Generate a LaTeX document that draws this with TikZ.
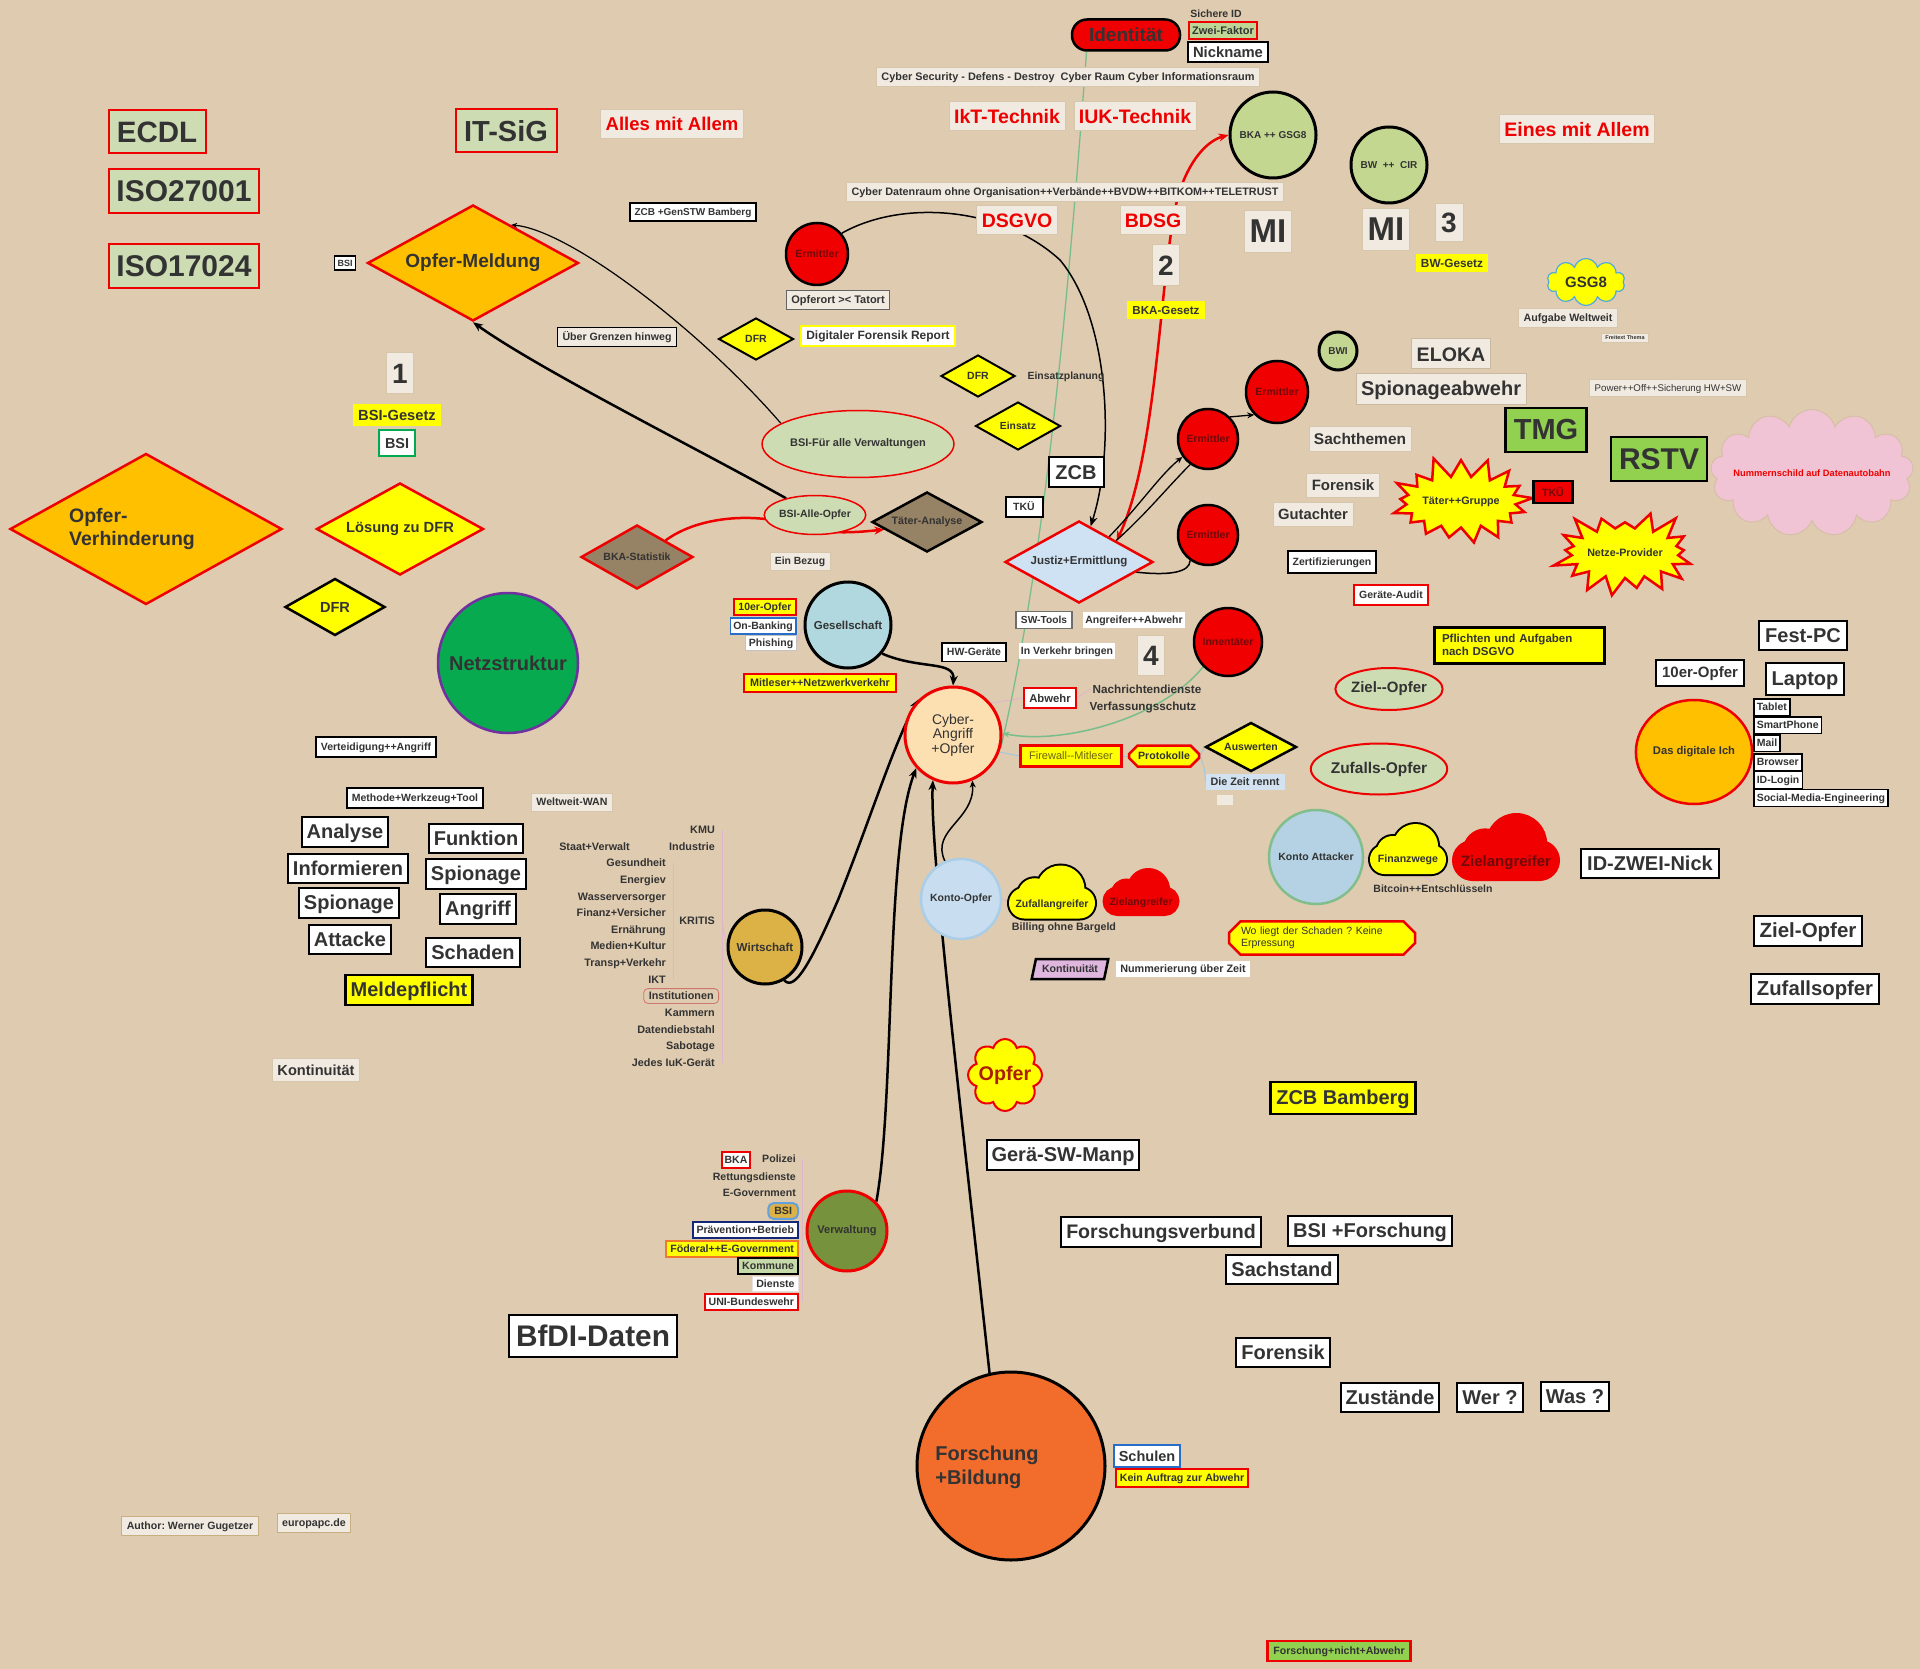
\documentclass[tikz,border=0pt]{standalone}
\usepackage{fontspec}
\setmainfont{Liberation Sans}
\frenchspacing
\usetikzlibrary{shapes.geometric,shapes.symbols,shapes.misc,arrows.meta}
\pgfdeclarelayer{bg}
\pgfsetlayers{bg,main}
\definecolor{bgc}{RGB}{223,203,175}
\definecolor{lbg}{RGB}{241,234,224}
\definecolor{lbd}{RGB}{214,198,172}
\definecolor{txt}{RGB}{51,51,51}
\definecolor{rd}{RGB}{238,0,0}
\definecolor{rfill}{RGB}{240,0,0}
\definecolor{drd}{RGB}{110,10,10}
\definecolor{yel}{RGB}{255,255,0}
\definecolor{org}{RGB}{255,192,0}
\definecolor{lgr}{RGB}{205,220,178}
\definecolor{isog}{RGB}{205,220,178}
\definecolor{cgr}{RGB}{195,215,145}
\definecolor{tmgc}{RGB}{146,208,80}
\definecolor{netz}{RGB}{8,170,80}
\definecolor{purp}{RGB}{112,48,160}
\definecolor{taupe}{RGB}{150,130,100}
\definecolor{jus}{RGB}{207,226,243}
\definecolor{cyb}{RGB}{253,224,178}
\definecolor{gesc}{RGB}{176,216,222}
\definecolor{wirtc}{RGB}{220,178,70}
\definecolor{verwc}{RGB}{118,146,60}
\definecolor{fors}{RGB}{242,108,44}
\definecolor{kop}{RGB}{200,222,240}
\definecolor{kopd}{RGB}{170,205,232}
\definecolor{kat}{RGB}{180,210,228}
\definecolor{katd}{RGB}{130,190,140}
\definecolor{cpink}{RGB}{240,196,212}
\definecolor{kont}{RGB}{222,182,222}
\definecolor{zeitc}{RGB}{210,226,240}
\definecolor{glin}{RGB}{120,190,140}
\definecolor{blin}{RGB}{150,200,230}
\definecolor{plin}{RGB}{225,180,205}
\definecolor{olv}{RGB}{110,100,20}
\definecolor{blu}{RGB}{40,110,200}
\definecolor{dblu}{RGB}{20,40,120}
\definecolor{orb}{RGB}{240,120,40}
\definecolor{komc}{RGB}{198,217,168}
\definecolor{zfc}{RGB}{190,215,150}
\definecolor{oprd}{RGB}{170,30,0}
\definecolor{cldb}{RGB}{80,170,220}
\definecolor{autb}{RGB}{200,175,130}
\tikzset{
 fb/.style={font=\fontsize{#1}{#1}\selectfont\bfseries},
 fn/.style={font=\fontsize{#1}{#1}\selectfont},
 sstrut/.style={execute at begin node={\vrule width 0pt height .86\baselineskip depth .14\baselineskip\relax}},
 lbox/.style={fill=lbg, draw=lbd, line width=0.6pt, inner xsep=5pt, inner ysep=4.5pt, text=txt, sstrut},
 wbox/.style={fill=white, draw=black, line width=2pt, inner xsep=5pt, inner ysep=4.5pt, text=txt, sstrut},
 tbox/.style={inner xsep=2pt, inner ysep=1pt, text=txt, sstrut},
 rbox/.style={lbox, text=rd},
 ybox/.style={fill=yel, inner xsep=5pt, inner ysep=4pt, text=txt, sstrut},
 gbox/.style={fill=isog, draw=rd, line width=2pt, inner xsep=7pt, inner ysep=6pt, text=txt, sstrut},
 dmd/.style n args={3}{diamond, inner sep=0pt, minimum width=#1, minimum height=#2, aspect=#3, text=txt},
 circ/.style={circle, inner sep=0pt, minimum size=#1, text=txt},
 ermc/.style={circ=#1, fill=rfill, draw=black, line width=2.5pt, fb=10.5, text=drd},
 ell/.style n args={2}{ellipse, inner sep=0pt, minimum width=#1, minimum height=#2, text=txt},
 cld/.style n args={2}{cloud, inner sep=0pt, minimum width=#1, minimum height=#2, text=txt},
 stb/.style n args={2}{starburst, inner sep=0pt, minimum width=#1, minimum height=#2, text=txt},
 arr/.style={-{Stealth[length=10pt,width=8pt]}},
 sarr/.style={-{Stealth[length=7pt,width=6pt]}},
}
% cloud icon: x, y, width, height, fill, draw
\newcommand\cloudicon[6]{%
\pgfmathsetmacro\cL{#1-#3/2}%
\pgfmathsetmacro\cT{#2-#4/2}%
\pgfmathsetmacro\cR{#1+#3/2}%
\pgfmathsetmacro\cB{#2+#4/2}%
\pgfmathsetmacro\cPT{\cT+0.42*#4}%
\pgfmathsetmacro\cRad{0.29*#4}%
\pgfmathsetmacro\cAx{\cL+0.6*#3}%
\pgfmathsetmacro\cAy{\cT+0.45*#4}%
\pgfmathsetmacro\cAr{0.45*#4}%
\pgfmathsetmacro\cBx{\cL+0.3*#3}%
\pgfmathsetmacro\cBy{\cT+0.56*#4}%
\pgfmathsetmacro\cBr{0.32*#4}%
\path[draw=#6, line width=4pt] (\cL,\cPT) [rounded corners=\cRad pt] rectangle (\cR,\cB) (\cAx,\cAy) circle[radius=\cAr pt] (\cBx,\cBy) circle[radius=\cBr pt];
\path[fill=#5] (\cL,\cPT) [rounded corners=\cRad pt] rectangle (\cR,\cB) (\cAx,\cAy) circle[radius=\cAr pt] (\cBx,\cBy) circle[radius=\cBr pt];
}
\begin{document}
\begin{tikzpicture}[x=1pt,y=-1pt]
\useasboundingbox (0,0) rectangle (1920,1669);

% ---------- top left
\node[gbox, fb=29.5, minimum width=97pt, minimum height=43pt] (ecdl) at (157,132) {ECDL};
\node[gbox, fb=30, minimum height=44pt] (iso1) at (184,191) {ISO27001};
\node[gbox, fb=30, minimum height=44pt] (iso2) at (184,266) {ISO17024};
\node[gbox, fb=29, minimum width=101pt, minimum height=43pt] (itsig) at (506,131) {IT-SiG};
\node[rbox, fb=18.5, minimum height=29pt] (alles) at (672,124) {Alles mit Allem};
\node[rbox, fb=19.5, minimum height=28pt] (eines) at (1577,129) {Eines mit Allem};
\node[rbox, fb=19.5, minimum height=28pt] (ikt) at (1007,116) {IkT-Technik};
\node[rbox, fb=19.5, minimum height=28pt] (iuk) at (1135,116) {IUK-Technik};
\node[rbox, fb=19.5, minimum height=28pt] (dsgvo) at (1017,220) {DSGVO};
\node[rbox, fb=19.5, minimum height=28pt] (bdsg) at (1153,220) {BDSG};

% ---------- top
\node[draw=black, fill=rfill, line width=2.5pt, rounded corners=15pt, minimum width=108pt, minimum height=31pt, inner sep=0pt, fb=19, text=txt] (iden) at (1126,35) {Identität};
\node[tbox, fb=10.5] (sid) at (1216,14) {Sichere ID};
\node[fill=zfc, draw=rd, line width=2pt, fb=11, inner xsep=3.5pt, inner ysep=3pt, text=txt, sstrut] (zwei) at (1223,31) {Zwei-Faktor};
\node[wbox, fb=14.8, inner ysep=3pt] (nick) at (1228,52) {Nickname};
\node[lbox, fb=10.9, inner ysep=3.5pt] (cysec) at (1068,77) {Cyber Security - Defens - Destroy\ \ Cyber Raum Cyber Informationsraum};
\node[lbox, fb=10.8, inner ysep=3.5pt] (cydat) at (1065,192) {Cyber Datenraum ohne Organisation++Verbände++BVDW++BITKOM++TELETRUST};
\node[circ=86pt, fill=cgr, draw=black, line width=3pt, fb=10] (bka) at (1273,135) {BKA ++ GSG8};
\node[circ=76pt, fill=cgr, draw=black, line width=3pt, fb=10] (bwcir) at (1389,165) {BW\ \ ++\ \ CIR};
\node[lbox, fb=28, inner xsep=6pt, minimum height=41pt] (n2) at (1166,265) {2};
\node[ybox, fb=11.6, inner ysep=3.5pt] (bkag) at (1166,310) {BKA-Gesetz};
\node[lbox, fb=33, minimum width=47pt, minimum height=40pt, inner xsep=2pt] (mi1) at (1268,231) {MI};
\node[lbox, fb=33, minimum width=47pt, minimum height=40pt, inner xsep=2pt] (mi2) at (1386,229) {MI};
\node[lbox, fb=28, inner xsep=6pt, minimum height=38pt] (n3) at (1449,222) {3};
\node[ybox, fb=11.8, inner ysep=3.5pt] (bwg) at (1452,263) {BW-Gesetz};

% ---------- left upper
\node[wbox, fb=10, inner ysep=3.5pt] (zcbg) at (693,212) {ZCB +GenSTW Bamberg};
\node[wbox, fb=9, line width=1.5pt, inner xsep=3pt, inner ysep=2.5pt] (bsis) at (345,263) {BSI};
\node[dmd={211pt}{116pt}{1.82}, fill=org, draw=rd, line width=2.5pt, fb=19] (opfm) at (473,263) {Opfer-Meldung};
\node[ermc=62pt] (erm1) at (817,254) {Ermittler};
\node[lbox, draw={rgb,255:red,100;green,100;blue,100}, line width=1.5pt, fb=11, inner ysep=3.5pt] (oort) at (838,300) {Opferort >< Tatort};
\node[lbox, draw=black, line width=1.5pt, fb=10.6, inner ysep=4pt] (ueber) at (617,337) {Über Grenzen hinweg};
\node[dmd={75pt}{42pt}{1.8}, fill=yel, draw=black, line width=2pt, fb=10.5] (dfr1) at (756,339) {DFR};
\node[fill=white, draw=yel, line width=2pt, fb=12, inner xsep=5pt, inner ysep=4pt, text=txt, sstrut] (dfrrep) at (878,336) {Digitaler Forensik Report};
\node[dmd={74pt}{42pt}{1.8}, fill=yel, draw=black, line width=2pt, fb=10.5] (dfr2) at (978,376) {DFR};
\node[tbox, fb=10.4] (einpl) at (1066,376) {Einsatzplanung};
\node[dmd={85pt}{48pt}{1.8}, fill=yel, draw=black, line width=2pt, fb=10.3] (einsatz) at (1018,426) {Einsatz};
\node[ell={148pt}{67pt}, fill=lgr, draw=rd, line width=1.5pt, fb=11] (bsif) at (858,444) {BSI-Für alle Verwaltungen};
\node[ell={88pt}{39pt}, fill=lgr, draw=rd, line width=1.5pt, fb=10.5] (bsiao) at (815,515) {BSI-Alle-Opfer};
\node[dmd={110pt}{60pt}{1.83}, fill=taupe, draw=black, line width=2.5pt, fb=10.7] (taeter) at (927,522) {Täter-Analyse};
\node[dmd={112pt}{64pt}{1.75}, fill=taupe, draw=rd, line width=2.5pt, fb=10.5] (bkas) at (637,557) {BKA-Statistik};
\node[lbox, fb=10.4, inner ysep=3.5pt] (bezug) at (800,561) {Ein Bezug};

% ---------- center
\node[wbox, fb=20, minimum width=55pt, minimum height=30pt, inner xsep=3pt] (zcb) at (1076,472) {ZCB};
\node[wbox, fb=10.5, minimum width=37pt, minimum height=20pt, inner sep=2pt] (tku1) at (1024,507) {TKÜ};
\node[dmd={148pt}{82pt}{1.8}, fill=jus, draw=rd, line width=2.5pt, fb=11.5] (justiz) at (1079,562) {Justiz+Ermittlung};
\node[ermc=60pt] (erm2) at (1208,439) {Ermittler};
\node[ermc=62pt] (erm3) at (1277,392) {Ermittler};
\node[ermc=60pt] (erm4) at (1208,535) {Ermittler};
\node[ermc=68pt] (innen) at (1228,642) {Innentäter};
\node[wbox, draw={rgb,255:red,110;green,110;blue,110}, line width=1.5pt, fb=10.2, inner ysep=3.5pt] (swt) at (1044,620) {SW-Tools};
\node[fill=white, tbox, fb=10.5, inner ysep=2.5pt] (angab) at (1134,620) {Angreifer++Abwehr};
\node[wbox, line width=1.5pt, fb=10.5, inner ysep=4pt] (hwg) at (974,652) {HW-Geräte};
\node[fill=white, tbox, fb=10.5, inner ysep=2.5pt] (invb) at (1067,651) {In Verkehr bringen};
\node[lbox, fb=28, inner xsep=6pt, minimum height=40pt] (n4) at (1151,655) {4};
\node[fill=white, draw=rd, line width=2pt, fb=11.3, inner xsep=5pt, inner ysep=4.5pt, text=txt, sstrut] (abw) at (1050,698) {Abwehr};
\node[tbox, fb=11.7] (nachr) at (1147,689) {Nachrichtendienste};
\node[tbox, fb=11.7] (verf) at (1143,707) {Verfassungsschutz};
\node[fill=yel, draw=rd, line width=2.5pt, fn=11, text=olv, minimum width=101pt, minimum height=21pt, inner sep=2pt, sstrut] (fire) at (1071,756) {Firewall-{}-Mitleser};
\node[chamfered rectangle, chamfered rectangle xsep=5pt, fill=yel, draw=rd, line width=2.5pt, fb=10.6, minimum width=70pt, minimum height=21pt, inner sep=1pt, text=txt, sstrut] (prot) at (1164,756) {Protokolle};
\node[dmd={91pt}{49pt}{1.86}, fill=yel, draw=black, line width=2.5pt, fb=10.5] (ausw) at (1251,747) {Auswerten};
\node[fill=zeitc, fb=10.8, inner xsep=5pt, inner ysep=2.5pt, text=txt, sstrut] (zeit) at (1245,782) {Die Zeit rennt};
\node[fill=lbg, minimum width=16pt, minimum height=10pt, inner sep=0pt] (emp) at (1225,800) {};
\node[circ=96pt, fill=cyb, draw=rd, line width=3pt, align=center, font=\fontsize{14}{14.5}\selectfont] (cyber) at (953,735) {Cyber-\\Angriff\\+Opfer};

% ---------- Gesellschaft
\node[circ=86pt, fill=gesc, draw=black, line width=3pt, fb=11.5] (gesell) at (848,625) {Gesellschaft};
\node[fill=yel, draw=rd, line width=2pt, fb=10.5, inner xsep=4pt, inner ysep=2.5pt, text=txt, sstrut] (zehn1) at (765,607) {10er-Opfer};
\node[fill=white, draw=blu, line width=1.5pt, fb=10.5, inner xsep=3pt, inner ysep=2.5pt, text=txt, sstrut] (onb) at (763,626) {On-Banking};
\node[fill=white, draw={rgb,255:red,195;green,195;blue,195}, line width=1pt, fb=10.5, inner xsep=3pt, inner ysep=2pt, text=txt, sstrut] (phish) at (771,643) {Phishing};
\node[fill=yel, draw=rd, line width=2pt, fb=10.8, inner xsep=6pt, inner ysep=4pt, text=txt, sstrut] (mitl) at (820,683) {Mitleser++Netzwerkverkehr};
\node[lbox, fb=10.6, inner ysep=3.5pt] (wwan) at (572,802) {Weltweit-WAN};

% ---------- Wirtschaft
\node[circ=74pt, fill=wirtc, draw=black, line width=3pt, fb=11.6] (wirt) at (765,947) {Wirtschaft};
\node[tbox, fb=10.8, anchor=east] (kmu) at (717,830) {KMU};
\node[tbox, fb=10.8, anchor=east] (indu) at (717,847) {Industrie};
\node[tbox, fb=10.8, anchor=east] (staat) at (632,847) {Staat+Verwalt};
\node[tbox, fb=10.8, anchor=east] (gesu) at (668,863) {Gesundheit};
\node[tbox, fb=10.8, anchor=east] (ener) at (668,880) {Energiev};
\node[tbox, fb=10.8, anchor=east] (wass) at (668,897) {Wasserversorger};
\node[tbox, fb=10.8, anchor=east] (fina) at (668,913) {Finanz+Versicher};
\node[tbox, fb=10.8, anchor=east] (kritis) at (717,921) {KRITIS};
\node[tbox, fb=10.8, anchor=east] (ernae) at (668,930) {Ernährung};
\node[tbox, fb=10.8, anchor=east] (medi) at (668,946) {Medien+Kultur};
\node[tbox, fb=10.8, anchor=east] (trans) at (668,963) {Transp+Verkehr};
\node[tbox, fb=10.8, anchor=east] (ikt2) at (668,980) {IKT};
\node[tbox, fb=10.8, anchor=east, draw={rgb,255:red,205;green,120;blue,110}, line width=0.8pt, rounded corners=4pt, inner xsep=5pt, inner ysep=2pt] (inst) at (719,996) {Institutionen};
\node[tbox, fb=10.8, anchor=east] (kamm) at (717,1013) {Kammern};
\node[tbox, fb=10.8, anchor=east] (datd) at (717,1030) {Datendiebstahl};
\node[tbox, fb=10.8, anchor=east] (sabo) at (717,1046) {Sabotage};
\node[tbox, fb=10.8, anchor=east] (jedes) at (717,1063) {Jedes IuK-Gerät};

% ---------- Verwaltung
\node[circ=80pt, fill=verwc, draw=rd, line width=3pt, fb=11.1] (verw) at (847,1231) {Verwaltung};
\node[fill=white, draw=rd, line width=2pt, fb=10.5, inner xsep=3pt, inner ysep=2.5pt, text=txt, sstrut] (bkav) at (736,1160) {BKA};
\node[tbox, fb=10.6, anchor=east] (poli) at (798,1159) {Polizei};
\node[tbox, fb=10.6, anchor=east] (rett) at (798,1177) {Rettungsdienste};
\node[tbox, fb=10.6, anchor=east] (egov) at (798,1193) {E-Government};
\node[fill=wirtc, draw={rgb,255:red,100;green,160;blue,220}, line width=2pt, rounded corners=5pt, fb=10.6, anchor=east, inner xsep=6pt, inner ysep=2.5pt, text=txt, sstrut] (bsiv) at (799,1211) {BSI};
\node[fill=white, draw=dblu, line width=2pt, fb=10.6, anchor=east, inner xsep=4pt, inner ysep=2.5pt, text=txt, sstrut] (praev) at (799,1230) {Prävention+Betrieb};
\node[fill=yel, draw=orb, line width=2pt, fb=10.6, anchor=east, inner xsep=4pt, inner ysep=2.5pt, text=txt, sstrut] (foed) at (799,1249) {Föderal++E-Government};
\node[fill=komc, draw=black, line width=2pt, fb=10.6, anchor=east, inner xsep=4pt, inner ysep=3pt, text=txt, sstrut] (komm) at (799,1266) {Kommune};
\node[fill=white, draw={rgb,255:red,235;green,222;blue,222}, line width=0.8pt, fb=10.6, anchor=east, inner xsep=4pt, inner ysep=2.5pt, text=txt, sstrut] (dien) at (799,1284) {Dienste};
\node[fill=white, draw=rd, line width=2pt, fb=10.6, anchor=east, inner xsep=4pt, inner ysep=3pt, text=txt, sstrut] (unib) at (799,1302) {UNI-Bundeswehr};

% ---------- left middle
\node[lbox, fb=28, inner xsep=6pt, minimum height=41pt] (n1) at (400,373) {1};
\node[ybox, fb=14.7, inner ysep=4pt] (bsig) at (397,415) {BSI-Gesetz};
\node[fill=white, draw={rgb,255:red,0;green,170;blue,80}, line width=2pt, fb=14.4, inner xsep=6pt, inner ysep=6pt, text=txt, sstrut] (bsigr) at (397,443) {BSI};
\node[dmd={167pt}{92pt}{1.82}, fill=yel, draw=rd, line width=2.5pt, fb=14.7] (loes) at (400,529) {Lösung zu DFR};
\node[dmd={100pt}{57pt}{1.75}, fill=yel, draw=black, line width=2.5pt, fb=14.6] (dfr3) at (335,607) {DFR};
\node[circ=140pt, fill=netz, draw=purp, line width=2.5pt, fb=20] (netzs) at (508,663) {Netzstruktur};
\node[dmd={272pt}{151pt}{1.8}, fill=org, draw=rd, line width=2.5pt] (ovh) at (146,529) {};
\node[align=left, font=\fontsize{19.5}{24}\selectfont\bfseries, text=txt] (ovht) at (132,529) {Opfer-\\Verhinderung};
\node[wbox, fb=10.5, inner ysep=4.5pt] (vert) at (376,747) {Verteidigung++Angriff};
\node[wbox, fb=10.5, inner ysep=4pt] (meth) at (415,798) {Methode+Werkzeug+Tool};
\node[wbox, fb=20] (anal) at (345,832) {Analyse};
\node[wbox, fb=20] (info) at (348,868) {Informieren};
\node[wbox, fb=20] (spio1) at (349,903) {Spionage};
\node[wbox, fb=20] (atta) at (350,939) {Attacke};
\node[wbox, fb=20] (funk) at (476,838) {Funktion};
\node[wbox, fb=20] (spio2) at (476,874) {Spionage};
\node[wbox, fb=20] (angr) at (478,909) {Angriff};
\node[wbox, fb=20] (scha) at (473,952) {Schaden};
\node[wbox, fill=yel, line width=2.5pt, fb=20] (meld) at (409,990) {Meldepflicht};
\node[lbox, fb=14.6, inner ysep=4pt] (kont1) at (316,1070) {Kontinuität};

% ---------- lower center
\node[circ=80pt, fill=kop, draw=kopd, line width=2.5pt, fb=10.5] (kopf) at (961,899) {Konto-Opfer};
\cloudicon{1052}{892}{86}{53}{yel}{black}
\node[tbox, fb=10.5] (zufa) at (1052,904) {Zufallangreifer};
\cloudicon{1141}{892}{73}{44}{rfill}{rfill}
\node[tbox, fb=10.5, text=drd] (ziel1) at (1141,902) {Zielangreifer};
\node[tbox, fb=10.7] (bill) at (1064,927) {Billing ohne Bargeld};
\node[chamfered rectangle, chamfered rectangle xsep=8pt, fill=yel, draw=rd, line width=2.5pt, minimum width=186pt, minimum height=31pt, text width=162pt, align=left, inner xsep=2pt, inner ysep=2pt, font=\fontsize{10.5}{12.5}\selectfont, text=txt] (wo) at (1322,938) {Wo liegt der Schaden ? Keine\\Erpressung};
\node[trapezium, trapezium left angle=70, trapezium right angle=110, trapezium stretches=true, fill=kont, draw=black, line width=2.5pt, minimum width=77pt, minimum height=20pt, inner sep=1pt, fb=10.6, text=txt] (kont2) at (1070,969) {Kontinuität};
\node[fill=white, fb=10.8, inner xsep=4pt, inner ysep=2pt, text=txt, sstrut] (numm) at (1183,969) {Nummerierung über Zeit};
\node[cld={74pt}{72pt}, cloud puffs=8, aspect=1, fill=yel, draw=rd, line width=2pt] (opferc) at (1005,1075) {};
\node[fb=19.7, text=oprd, inner sep=0pt] (opfer) at (1005,1075) {Opfer};
\node[fill=yel, draw=black, line width=2.5pt, fb=20, inner xsep=6pt, inner ysep=5.5pt, text=txt, sstrut] (zcbb) at (1343,1098) {ZCB Bamberg};
\node[wbox, fb=20] (gera) at (1063,1155) {Gerä-SW-Manp};
\node[wbox, fb=19.6] (fverb) at (1161,1232) {Forschungsverbund};
\node[wbox, fb=20] (bsifo) at (1370,1231) {BSI +Forschung};
\node[wbox, fb=20] (sach) at (1282,1269) {Sachstand};
\node[wbox, fb=29.8, line width=2.5pt, inner xsep=7pt, inner ysep=6pt] (bfdi) at (593,1336) {BfDI-Daten};
\node[wbox, fb=20] (fore2) at (1283,1352) {Forensik};
\node[wbox, fb=20] (zust) at (1390,1397) {Zustände};
\node[wbox, fb=20] (wer) at (1490,1397) {Wer ?};
\node[wbox, fb=20] (was) at (1575,1396) {Was ?};
\node[circ=188pt, fill=fors, draw=black, line width=3pt] (forsch) at (1011,1466) {};
\node[align=left, font=\fontsize{20}{24}\selectfont\bfseries, text=txt] (forscht) at (987,1467) {Forschung\\+Bildung};
\node[fill=white, draw=blu, line width=2pt, fb=14.5, inner xsep=5pt, inner ysep=3.5pt, text=txt, sstrut] (schul) at (1147,1456) {Schulen};
\node[fill=yel, draw=rd, line width=2pt, fb=10.6, inner xsep=4pt, inner ysep=3pt, text=txt, sstrut] (kein) at (1182,1478) {Kein Auftrag zur Abwehr};
\node[lbox, draw=autb, line width=1.2pt, fb=10.6, inner ysep=4pt] (auth) at (190,1526) {Author: Werner Gugetzer};
\node[lbox, draw=autb, line width=1.2pt, fb=10.7, inner ysep=4pt] (euro) at (314,1523) {europapc.de};
\node[fill=tmgc, draw=rd, line width=2.5pt, fb=10.6, inner xsep=6pt, inner ysep=4.5pt, text=txt, sstrut] (fna) at (1339,1651) {Forschung+nicht+Abwehr};

% ---------- right
\node[cld={78pt}{45pt}, cloud puffs=10, aspect=1.7, fill=yel, draw=cldb, line width=1.2pt, fb=15] (gsg8) at (1586,282) {GSG8};
\node[lbox, fb=10.7, inner ysep=3.5pt] (aufg) at (1568,318) {Aufgabe Weltweit};
\node[lbox, fb=5.5, inner ysep=2pt, inner xsep=4pt] (freit) at (1625,338) {Freitext Thema};
\node[circ=38pt, fill=cgr, draw=black, line width=3pt, fb=10] (bwi) at (1338,351) {BWI};
\node[lbox, draw={rgb,255:red,200;green,185;blue,160}, line width=1pt, fb=19.6, minimum height=30pt] (eloka) at (1451,354) {ELOKA};
\node[lbox, draw={rgb,255:red,200;green,185;blue,160}, line width=1pt, fb=20, minimum height=29pt] (spab) at (1441,389) {Spionageabwehr};
\node[lbox, fn=9.7, inner ysep=3.5pt] (power) at (1668,388) {Power++Off++Sicherung HW+SW};
\node[fill=tmgc, draw=black, line width=2.5pt, fb=29, minimum width=81pt, minimum height=44pt, inner sep=2pt, text=txt] (tmg) at (1546,430) {TMG};
\node[fill=tmgc, draw=black, line width=2.5pt, fb=30, minimum width=96pt, minimum height=44pt, inner sep=2pt, text=txt] (rstv) at (1659,459) {RSTV};
\node[cld={203pt}{127pt}, cloud puffs=13, aspect=1.6, fill=cpink, draw={rgb,255:red,215;green,190;blue,170}, line width=1pt] (numschc) at (1812,473) {};
\node[fb=9.3, text=rd, inner sep=0pt] (numsch) at (1812,473) {Nummernschild auf Datenautobahn};
\node[lbox, fb=15.5, minimum height=24pt] (sacht) at (1360,439) {Sachthemen};
\node[lbox, fb=15, minimum height=23pt] (fore1) at (1343,485) {Forensik};
\node[lbox, fb=14.8, minimum height=23pt] (guta) at (1313,514) {Gutachter};
\node[stb={114pt}{95pt}, starburst points=17, starburst point height=22pt, random starburst=11, fill=yel, draw=rd, line width=2.5pt, fb=10.8] (tgr) at (1461,502) {Täter++Gruppe};
\node[fill=rfill, draw=black, line width=2.5pt, fb=10.5, text=drd, minimum width=39pt, minimum height=22pt, inner sep=1pt] (tku2) at (1553,492) {TKÜ};
\node[stb={116pt}{94pt}, starburst points=17, starburst point height=22pt, random starburst=23, fill=yel, draw=rd, line width=2.5pt, fb=10.7] (netzp) at (1625,553) {Netze-Provider};
\node[wbox, fb=10.5, inner ysep=5pt] (zert) at (1332,562) {Zertifizierungen};
\node[fill=white, draw=rd, line width=2pt, fb=10.5, inner xsep=5pt, inner ysep=4.5pt, text=txt, sstrut] (gaud) at (1391,595) {Geräte-Audit};
\node[fill=yel, draw=black, line width=3pt, minimum width=170pt, minimum height=36pt, text width=154pt, align=left, inner xsep=7pt, inner ysep=2pt, text=txt, font=\fontsize{11.5}{13.5}\selectfont\bfseries] (pfl) at (1519,645) {Pflichten und Aufgaben\\nach DSGVO};
\node[ell={92pt}{42pt}, fill=lgr, draw=rd, line width=2pt, fb=15] (zopf1) at (1389,689) {Ziel-{}-Opfer};
\node[ell={111pt}{51pt}, fill=lgr, draw=rd, line width=2pt, fb=15.5] (zufo1) at (1379,769) {Zufalls-Opfer};
\node[circ=94pt, fill=kat, draw=katd, line width=2.5pt, fb=10.5] (katt) at (1316,857) {Konto Attacker};
\cloudicon{1408}{849}{76}{50}{yel}{black}
\node[tbox, fb=10.6] (finw) at (1408,859) {Finanzwege};
\cloudicon{1506}{847}{104}{64}{rfill}{rfill}
\node[tbox, fb=15, text=drd] (ziel2) at (1506,862) {Zielangreifer};
\node[tbox, fb=10.5] (bitc) at (1433,889) {Bitcoin++Entschlüsseln};
\node[wbox, fb=20, inner xsep=6pt] (festpc) at (1803,635) {Fest-PC};
\node[wbox, fb=15, inner xsep=6pt, inner ysep=5pt] (zehn2) at (1700,673) {10er-Opfer};
\node[wbox, fb=20, inner xsep=6pt, inner ysep=5.5pt] (lapt) at (1805,679) {Laptop};
\node[ell={102pt}{104pt}, fill=org, draw=rd, line width=2.5pt, fb=11.2] (digi) at (1694,752) {Das digitale Ich};
\node[wbox, line width=1.5pt, fb=10.5, inner xsep=3pt, inner ysep=3pt, anchor=west] (tabl) at (1753,707) {Tablet};
\node[wbox, line width=1.5pt, fb=10.5, inner xsep=3pt, inner ysep=3pt, anchor=west] (smph) at (1753,725) {SmartPhone};
\node[wbox, line width=1.5pt, fb=10.5, inner xsep=3pt, inner ysep=3pt, anchor=west] (mail) at (1753,743) {Mail};
\node[wbox, line width=1.5pt, fb=10.5, inner xsep=3pt, inner ysep=3pt, anchor=west] (brow) at (1753,762) {Browser};
\node[wbox, line width=1.5pt, fb=10.5, inner xsep=3pt, inner ysep=3pt, anchor=west] (idl) at (1753,780) {ID-Login};
\node[wbox, line width=1.5pt, fb=10.5, inner xsep=3pt, inner ysep=3pt, anchor=west] (smed) at (1753,798) {Social-Media-Engineering};
\node[wbox, fb=20, inner xsep=6pt] (idzw) at (1650,863) {ID-ZWEI-Nick};
\node[wbox, fb=20.5, inner xsep=6pt] (zopf2) at (1808,931) {Ziel-Opfer};
\node[wbox, fb=20.3, inner xsep=6pt] (zufo2) at (1815,989) {Zufallsopfer};

% ---------- connectors
\begin{pgfonlayer}{bg}
\fill[bgc] (0,0) rectangle (1920,1669);
\draw[plin, line width=0.8pt] ([xshift=5pt]kmu.east) -- ([xshift=5pt]jedes.east);
\draw[plin, line width=0.8pt] ([xshift=5pt]gesu.east) -- ([xshift=5pt]ikt2.east);
\draw[plin, line width=0.8pt] (wirt.west) -- ([xshift=5pt]kritis.east);
\draw[plin, line width=0.8pt] ([xshift=4pt]poli.east) -- ([xshift=3pt]unib.east);
\draw[plin, line width=0.8pt] (gesell.west) -- (phish.east);
\draw[plin, line width=0.8pt] (cyber.40) -- (abw.west);
\draw[plin, line width=0.8pt] (abw.east) -- (nachr.west);
\draw[plin, line width=0.8pt] (kopf.east) -- (zufa.west);
\draw[plin, line width=0.8pt] (katt.east) -- (finw.west);
\draw[plin, line width=0.8pt] (finw.south) -- (bitc.north);
\draw[blin, line width=0.8pt] (cyber.-20) -- (fire.west);
\draw[blin, line width=0.8pt] (fire.east) -- (prot.west);
\draw[blin, line width=0.8pt] (prot.east) -- (ausw.west);
\draw[blin, line width=0.8pt] (prot.east) .. controls (1205,770) .. (zeit.west);
\draw[glin, line width=1.3pt] (iden.-157) .. controls (1068,300) and (1045,560) .. (cyber.-15);
\draw[glin, line width=1.5pt, sarr] (innen.225) .. controls (1160,720) and (1060,745) .. (cyber.2);
\draw[rd, line width=2.5pt, {Stealth[length=10pt,width=8pt]}-{Stealth[length=10pt,width=8pt]}] (justiz.north east) .. controls (1160,450) and (1160,250) .. (1180,190) .. controls (1192,155) and (1210,140) .. (bka.180);
\draw[rd, line width=2.5pt, arr] (bkas.north east) .. controls (700,515) and (760,512) .. (800,527) .. controls (830,535) and (860,532) .. (taeter.190);
\draw[line width=1.5pt, arr] (erm1.40) .. controls (900,200) and (1000,205) .. (1060,260) .. controls (1110,320) and (1115,450) .. (justiz.72);
\draw[line width=1.3pt, sarr] (erm2.north east) -- (erm3.south west);
\draw[line width=1.3pt, sarr] (justiz.40) .. controls (1140,505) and (1160,475) .. (erm2.215);
\draw[line width=1.3pt] (erm2.235) .. controls (1165,490) and (1145,515) .. (justiz.30);
\draw[line width=1.5pt] (justiz.-10) .. controls (1170,576) and (1190,572) .. (erm4.235);
\draw[line width=1.2pt, {Stealth[length=6pt,width=5pt]}-] (opfm.45) .. controls (570,230) and (700,330) .. (bsif.165);
\draw[line width=2.5pt, arr] (bsiao.150) .. controls (700,450) and (540,370) .. (opfm.south);
\draw[line width=2.5pt, arr] (gesell.-40) .. controls (920,670) and (955,660) .. (cyber.north);
\draw[line width=2.5pt, arr] (wirt.-60) .. controls (795,992) and (812,960) .. (838,900) .. controls (870,820) and (895,740) .. (cyber.134);
\draw[line width=2.5pt, arr] (verw.45) .. controls (895,1100) and (885,850) .. (cyber.222);
\draw[line width=2.5pt, arr] (forsch.103) .. controls (960,1100) and (930,850) .. (cyber.246);
\draw[line width=1.5pt, sarr] (kopf.113) .. controls (930,830) and (975,820) .. (cyber.293);
\end{pgfonlayer}
\end{tikzpicture}
\end{document}
